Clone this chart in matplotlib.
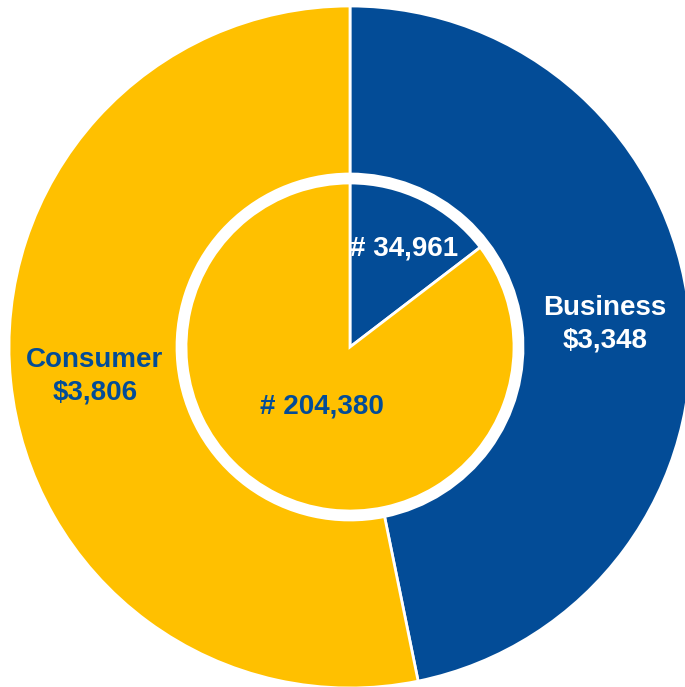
import matplotlib.pyplot as plt

# Spend by segment (outer ring) and account counts (inner pie)
segments = ['Business', 'Consumer']
spend = [3348, 3806]
counts = [34961, 204380]

blue = '#034C97'
gold = '#FFC000'
colors = [blue, gold]

plt.rcParams['font.family'] = ['Liberation Sans', 'DejaVu Sans']

fig = plt.figure(figsize=(6.85, 6.87), dpi=100)
ax = fig.add_axes([0, 0, 1, 1])

cx, cy = 350, 340
outer_r, hole_r, inner_r = 341, 173, 164

ax.pie(spend, radius=outer_r, center=(cx, cy), startangle=90, counterclock=False,
       colors=colors,
       wedgeprops=dict(width=outer_r - hole_r, edgecolor='white', linewidth=2))
ax.pie(counts, radius=inner_r, center=(cx, cy), startangle=90, counterclock=False,
       colors=colors,
       wedgeprops=dict(edgecolor='white', linewidth=2))

ax.set_xlim(0, 685)
ax.set_ylim(0, 687)
ax.set_aspect('equal')
ax.axis('off')

font = dict(fontsize=20, fontweight='bold', ha='center', va='center', linespacing=1.3)
ax.text(605, 687 - 324, f'{segments[0]}\n${spend[0]:,}', color='white', **font)
ax.text(95, 687 - 376, f'{segments[1]}\n${spend[1]:,}', color=blue, **font)
ax.text(404, 687 - 248, f'# {counts[0]:,}', color='white', **font)
ax.text(322, 687 - 406, f'# {counts[1]:,}', color=blue, **font)

fig.savefig('out.png', dpi=100)
